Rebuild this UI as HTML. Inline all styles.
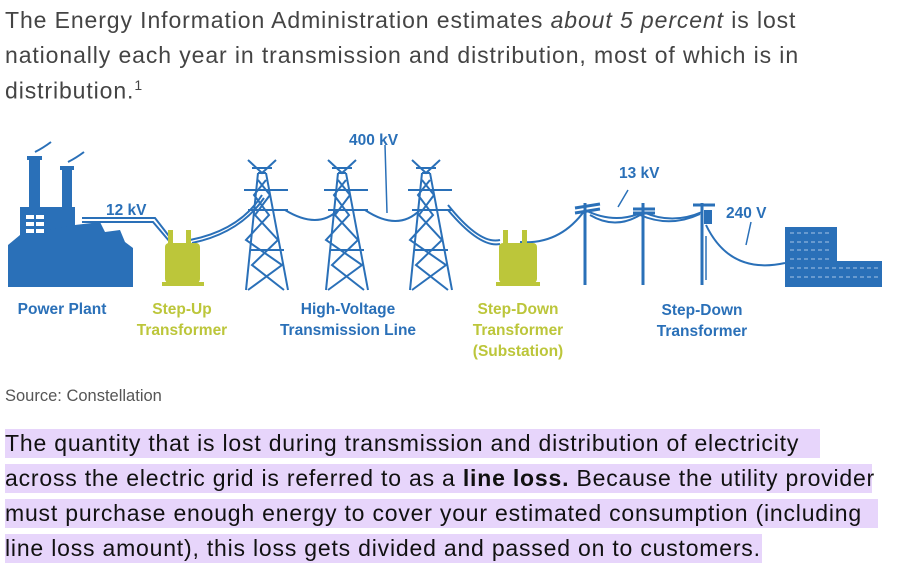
<!DOCTYPE html>
<html><head><meta charset="utf-8"><style>
body{margin:0;width:898px;height:568px;background:#fff;position:relative;overflow:hidden;font-family:"Liberation Sans",sans-serif}
.t{position:absolute;left:5px;white-space:nowrap;font-size:23px;letter-spacing:0.9px;color:#444}
.h{position:absolute;left:5px;height:29px;background:#e7d5fb;white-space:nowrap;font-size:23px;letter-spacing:0.8px;color:#111;line-height:29px}
.src{position:absolute;left:5px;top:387px;font-size:16.5px;color:#555}
svg text{font-family:"Liberation Sans",sans-serif;font-weight:bold;font-size:15.5px}
</style></head><body>
<div class="t" style="top:7px">The Energy Information Administration estimates <i>about 5 percent</i> is lost</div>
<div class="t" style="top:42px">nationally each year in transmission and distribution, most of which is in</div>
<div class="t" style="top:77px">distribution.<sup style="font-size:14px">1</sup></div>

<svg style="position:absolute;left:0;top:125px" width="898" height="240" viewBox="0 125 898 240">
<g fill="#2a70b8" stroke="none">
<rect x="29" y="158" width="11" height="50"/><rect x="27" y="156" width="15" height="4"/>
<rect x="62" y="168" width="10" height="40"/><rect x="60" y="166" width="14" height="4"/>
<rect x="20" y="207" width="55" height="80"/>
<polygon points="8,245 20,235 75,225 100,222 105,232 120,230 125,242 133,248 133,287 8,287"/>
</g>
<g fill="#fff"><rect x="26" y="215" width="8" height="4"/><rect x="36" y="215" width="8" height="4"/><rect x="26" y="222" width="8" height="4"/><rect x="36" y="222" width="8" height="4"/><rect x="26" y="229" width="8" height="4"/><rect x="36" y="229" width="8" height="4"/></g>
<g stroke="#2a70b8" fill="none" stroke-width="2">
<path d="M35 152 q8 -4 16 -10"/><path d="M68 162 q8 -4 16 -10"/>
<path d="M82 218 L155 218 L172 240 M82 222 L153 222 L170 242"/>
<path d="M190 240 Q240 230 262 195 M192 243 Q240 233 264 198"/>
<path d="M285 210 Q318 230 338 210 M365 210 Q398 232 420 210"/>
<path d="M448 205 Q480 245 500 240 M520 242 Q560 245 585 210 M448 210 Q480 248 500 244"/>
<path d="M585 210 Q615 225 643 212 Q672 225 702 212 M590 215 Q615 230 640 215 Q670 228 700 214"/>
<path d="M706 225 Q730 275 785 263"/>
<path d="M385 145 L387 213 M628 190 L618 207 M751 222 L746 245 M706 280 L706 236" stroke-width="1.5"/>
</g>
<g stroke="#2a70b8" fill="none" stroke-width="2">
<g id="tw"><path d="M248 160 L262 173 L276 160 M258 173 L246 290 M266 173 L288 290 M258 173 L266 173 M244 190 L288 190 M248 210 L288 210 M258 180 L270 195 L255 215 L278 240 L252 265 L284 290 M266 180 L254 195 L269 215 L246 240 L282 265 L248 290 M250 250 L284 250 M252 168 L272 168"/></g>
<use href="#tw" x="80"/><use href="#tw" x="164"/>
</g>
<g stroke="#2a70b8" stroke-width="3" fill="none">
<path d="M585 203 L585 285 M643 203 L643 285 M702 203 L702 285"/>
<path d="M575 208 L600 204 M575 213 L600 209 M633 209 L655 209 M633 213 L655 213 M693 205 L715 205"/>
</g>
<rect x="704" y="210" width="8" height="14" fill="#2a70b8"/>
<g fill="#bcc63a"><rect x="168" y="230" width="5" height="14"/><rect x="186" y="230" width="5" height="14"/><rect x="165" y="243" width="35" height="40" rx="4"/><rect x="162" y="282" width="42" height="4"/>
<rect x="503" y="230" width="5" height="14"/><rect x="522" y="230" width="5" height="14"/><rect x="499" y="243" width="38" height="40" rx="4"/><rect x="496" y="282" width="44" height="4"/></g>
<rect x="785" y="227" width="52" height="60" fill="#2a70b8"/><rect x="837" y="261" width="45" height="26" fill="#2a70b8"/>
<g fill="none" stroke="#cfe0f5" stroke-width="0.8">
<path d="M790 233h40M790 242h40M790 250h40M790 259h40M790 268h88M790 277h88" stroke-dasharray="4 3"/>
</g>
<g fill="#2a70b8">
<text x="349" y="145">400 kV</text><text x="619" y="178">13 kV</text><text x="106" y="215">12 kV</text><text x="726" y="218">240 V</text>
<text x="62" y="314" text-anchor="middle">Power Plant</text>
<text x="348" y="314" text-anchor="middle">High-Voltage</text><text x="348" y="335" text-anchor="middle">Transmission Line</text>
<text x="702" y="315" text-anchor="middle">Step-Down</text><text x="702" y="336" text-anchor="middle">Transformer</text>
</g>
<g fill="#bcc63a">
<text x="182" y="314" text-anchor="middle">Step-Up</text><text x="182" y="335" text-anchor="middle">Transformer</text>
<text x="518" y="314" text-anchor="middle">Step-Down</text><text x="518" y="335" text-anchor="middle">Transformer</text><text x="518" y="356" text-anchor="middle">(Substation)</text>
</g>
</svg>
<div class="src">Source: Constellation</div>
<div class="h" style="top:429px;width:815px">The quantity that is lost during transmission and distribution of electricity</div>
<div class="h" style="top:464px;width:867px">across the electric grid is referred to as a <b>line loss.</b> Because the utility provider</div>
<div class="h" style="top:499px;width:873px">must purchase enough energy to cover your estimated consumption (including</div>
<div class="h" style="top:534px;width:757px">line loss amount), this loss gets divided and passed on to customers.</div>
</body></html>
